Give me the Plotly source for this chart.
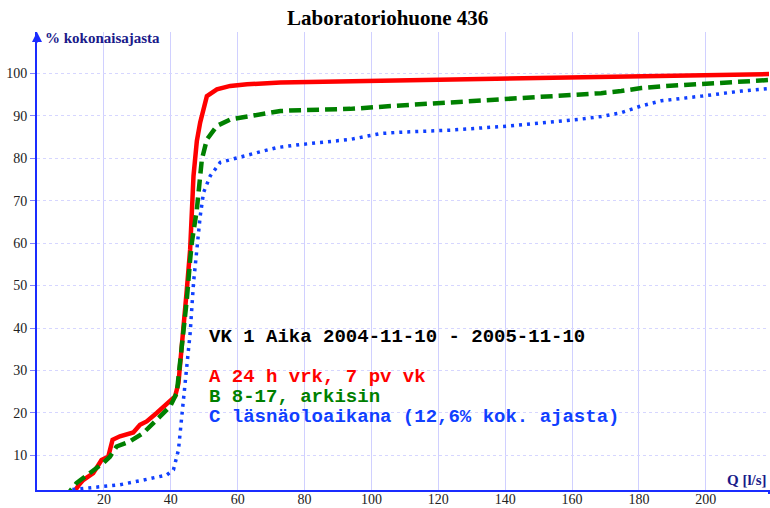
import plotly.graph_objects as go

# Series A: 24 h vrk, 7 pv vk
a_x = [9.5, 10.8, 12.5, 13.8, 16.8, 19.3, 21.3, 22.6, 24.8, 28.8, 30.8, 32.8, 35.8, 38.8, 41.3, 42.3,
       43.8, 44.8, 45.8, 46.8, 47.8, 48.8, 50.8, 53.8, 57.8, 62.8, 72.8, 80, 100, 120, 140, 160, 180, 200, 219]
a_y = [0, 1.1, 3, 4.2, 5.8, 8.9, 9.7, 13.7, 14.5, 15.4, 17.2, 18, 20, 22, 23.9, 27,
       38.8, 49, 58.5, 75.8, 84, 88.4, 94.6, 96.2, 97, 97.4, 97.8, 97.9, 98.1, 98.3, 98.5, 99.0, 99.3, 99.6, 99.8]

# Series B: 8-17, arkisin
b_x = [8, 9.5, 11.8, 15.8, 19.8, 21.8, 23.8, 27.8, 31.8, 35.8, 39.8, 41.8, 43.3, 44.8, 45.8, 46.3, 47.8,
       49.3, 50.8, 53.8, 57.8, 62.8, 72.8, 78.7, 93.7, 108.7, 123.7, 141.7, 153.8, 162.8, 168.7, 174.7,
       180.7, 186.7, 198.7, 210.7, 219]
b_y = [0, 1.2, 3.5, 5.8, 8.2, 9.7, 12.1, 13.3, 15.3, 18.4, 21.5, 24.7, 34.9, 46.7, 56.1, 60.1, 67.9,
       79.7, 84.4, 87.6, 89.1, 89.8, 91.1, 91.3, 91.6, 92.4, 93.1, 93.9, 94.6, 95.0, 95.3, 95.8,
       96.5, 96.9, 97.5, 98.1, 98.4]

# Series C: läsnäoloaikana
c_x = [9, 9.8, 14.8, 19.8, 24.8, 31.8, 38.8, 40.8, 42.3, 43.3, 44.3, 45.8, 46.8, 47.8, 48.8, 49.8, 51.8,
       54.8, 59.8, 65.8, 71.8, 78.8, 93.7, 102.7, 108.7, 123.7, 141.7, 153.8, 162.8, 168.7, 174.7, 180.7,
       186.7, 198.7, 210.7, 219]
c_y = [0.8, 1.9, 2.3, 2.7, 3.1, 4.2, 5.4, 6.6, 11.3, 19.2, 27, 38.8, 50.6, 58.5, 66.3, 71.9, 75.8,
       79, 80.1, 81.3, 82.5, 83.2, 84.4, 85.8, 86.1, 86.6, 87.6, 88.4, 89.2, 89.8, 90.7, 92.3,
       93.5, 94.6, 95.8, 96.4]

x_ticks = [20, 40, 60, 80, 100, 120, 140, 160, 180, 200]
y_ticks = [10, 20, 30, 40, 50, 60, 70, 80, 90, 100]

title_text = "Laboratoriohuone 436"
y_title = "% kokonaisajasta"
x_title = "Q [l/s]"
info_lines = ["VK 1 Aika 2004-11-10 - 2005-11-10",
              "A 24 h vrk, 7 pv vk",
              "B 8-17, arkisin",
              "C läsnäoloaikana (12,6% kok. ajasta)"]

X_RANGE = [0, 218.9]
Y_RANGE = [1.86, 109.7]

fig = go.Figure()
fig.add_trace(go.Scatter(x=a_x, y=a_y, mode="lines", line=dict(color="#ff0000", width=4.5),
                         name="A", showlegend=False))
fig.add_trace(go.Scatter(x=b_x, y=b_y, mode="lines",
                         line=dict(color="#008000", width=4.5, dash="12px,6px"),
                         name="B", showlegend=False))
fig.add_trace(go.Scatter(x=c_x, y=c_y, mode="lines",
                         line=dict(color="#1040ff", width=3.5, dash="3px,5px"),
                         name="C", showlegend=False))

serif = "Liberation Serif, Times New Roman, serif"
mono = "Liberation Mono, Courier New, monospace"
navy = "#1a1a8a"

T, B = 32, 18
H = 508 - T - B  # plot height in px
AX_Y = 508 - B   # pixel row of x axis

fig.update_layout(
    width=770, height=508,
    margin=dict(l=37, r=1, t=T, b=B),
    paper_bgcolor="white", plot_bgcolor="white",
    xaxis=dict(range=X_RANGE, tickvals=x_ticks, showgrid=True, gridcolor="#d0d0ff", gridwidth=1,
               zeroline=False, showline=True, linecolor="#1a2cff", linewidth=2, automargin=False,
               ticks="", ticklabelstandoff=-5,
               tickfont=dict(family=serif, size=14, color="#222222")),
    yaxis=dict(range=Y_RANGE, tickvals=y_ticks, showgrid=True, gridcolor="#d6d6ff", gridwidth=1,
               griddash="dot", zeroline=False, showline=True, linecolor="#1a2cff", linewidth=2,
               automargin=False, ticks="outside", ticklen=5, tickcolor="#8080ff",
               tickfont=dict(family=serif, size=14, color="#222222")),
    showlegend=False,
)

annotations = [
    dict(text="<b>" + title_text + "</b>", xref="paper", yref="paper", x=(387 - 37) / 732,
         y=1 + (T - 18) / H, xanchor="center", yanchor="middle", showarrow=False,
         font=dict(family=serif, size=21, color="black")),
    dict(text="<b>" + y_title + "</b>", xref="paper", yref="paper", x=(43 - 37) / 732,
         y=1 - (38 - T) / H, xanchor="left", yanchor="middle", showarrow=False,
         font=dict(family=serif, size=15, color=navy)),
    dict(text="<b>" + x_title + "</b>", xref="paper", yref="paper", x=1.0,
         y=(AX_Y - 480) / H, xanchor="right", yanchor="middle", showarrow=False,
         font=dict(family=serif, size=15, color=navy)),
    # arrow at top of y axis
    dict(text="", xref="x", yref="paper", x=0, y=1.0, ax=0, ay=12, axref="pixel", ayref="pixel",
         showarrow=True, arrowhead=2, arrowsize=1, arrowwidth=2, arrowcolor="#1a2cff"),
]
info_colors = ["black", "#ff0000", "#008000", "#1040ff"]
info_py = [337, 377, 397, 417]
for txt, col, py in zip(info_lines, info_colors, info_py):
    annotations.append(dict(text="<b>" + txt + "</b>", xref="paper", yref="paper",
                            x=(207 - 37) / 732, y=(AX_Y - py) / H, xanchor="left", yanchor="middle",
                            showarrow=False, font=dict(family=mono, size=19, color=col)))
fig.update_layout(annotations=annotations)

# small tick at the right end of the x axis
fig.add_shape(type="line", xref="paper", yref="paper", x0=1, x1=1, y0=0, y1=-4 / H,
              line=dict(color="#1a2cff", width=2))

fig.write_html("out.html", config={"displayModeBar": False},
               post_script="document.body.style.margin='0';")
